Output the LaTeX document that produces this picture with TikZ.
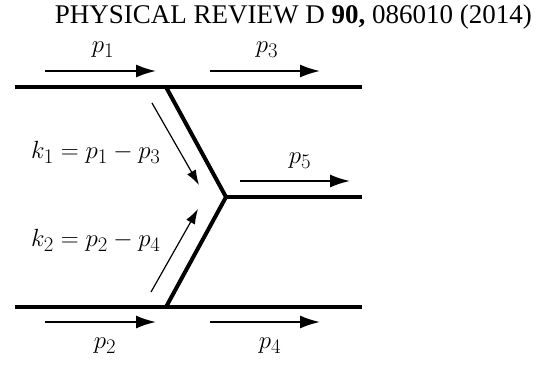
\documentclass[tikz,border=0pt]{standalone}
\usepackage{amsmath}
\usepackage{fontspec}
\newfontfamily\journalfont{Liberation Serif}
\usetikzlibrary{arrows.meta}

\begin{document}
\begin{tikzpicture}[
    x=1pt, y=-1pt,
    leg/.style={line width=4pt},
    mom/.style={line width=1.8pt, -{Latex[length=20pt,width=13pt]}},
    trans/.style={line width=1.2pt, -{Latex[length=15pt,width=10pt]}},
    lbl/.style={font=\fontsize{28}{32}\selectfont}
]
\useasboundingbox (0,0) rectangle (548,364);

% header
\node[anchor=base east, font=\journalfont\fontsize{27}{30}\selectfont, inner sep=0pt] (head) at (532,23)
    {PHYSICAL REVIEW D \textbf{90,} 086010 (2014)};

% legs of the vertex
\coordinate (tl) at (15,87);
\coordinate (tj) at (166,87);
\coordinate (tr) at (362,87);
\coordinate (bl) at (15,307);
\coordinate (bj) at (166,307);
\coordinate (br) at (362,307);
\coordinate (v)  at (226,197);
\coordinate (vr) at (362,197);

\draw[leg] (tl) -- (tr);
\draw[leg] (bl) -- (br);
\draw[leg, line join=miter] (tj) -- (v) -- (bj);
\draw[leg] (v) -- (vr);

% momentum arrows
\coordinate (a1) at (45,71);   \coordinate (b1) at (156,71);
\coordinate (a3) at (210,71);  \coordinate (b3) at (320,71);
\coordinate (a2) at (45,322);  \coordinate (b2) at (156,322);
\coordinate (a4) at (210,322); \coordinate (b4) at (320,322);
\coordinate (a5) at (240,181); \coordinate (b5) at (350,181);
\draw[mom] (a1) -- (b1);
\draw[mom] (a3) -- (b3);
\draw[mom] (a2) -- (b2);
\draw[mom] (a4) -- (b4);
\draw[mom] (a5) -- (b5);

\node[lbl] (p1) at (103,50) {$p_1$};
\node[lbl] (p3) at (267,50) {$p_3$};
\node[lbl] (p5) at (300,161) {$p_5$};
\node[lbl] (p2) at (105,346) {$p_2$};
\node[lbl] (p4) at (270,346) {$p_4$};

% exchanged momenta
\coordinate (k1s) at (152,103); \coordinate (k1e) at (199,185);
\coordinate (k2s) at (151,292); \coordinate (k2e) at (198,209);
\draw[trans] (k1s) -- (k1e);
\draw[trans] (k2s) -- (k2e);

\node[lbl, anchor=west, inner sep=0pt] (k1) at (31,152) {$k_1 = p_1 - p_3$};
\node[lbl, anchor=west, inner sep=0pt] (k2) at (31,240) {$k_2 = p_2 - p_4$};
\end{tikzpicture}
\end{document}
